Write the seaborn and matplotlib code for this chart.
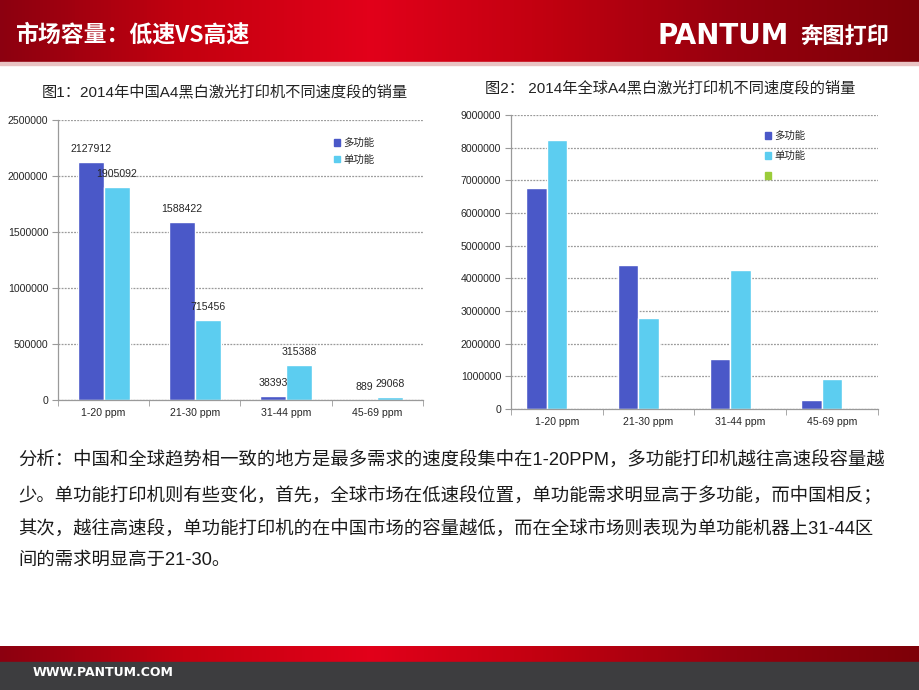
import numpy as np
import pandas as pd
import matplotlib
matplotlib.use("Agg")
import matplotlib.pyplot as plt
from matplotlib.patches import Patch
from matplotlib.colors import LinearSegmentedColormap
import seaborn as sns

# ---------------- data ----------------
speeds = ["1-20 ppm", "21-30 ppm", "31-44 ppm", "45-69 ppm"]
series_names = ["多功能", "单功能"]
china_multi = [2127912, 1588422, 38393, 889]
china_single = [1905092, 715456, 315388, 29068]
global_multi = [6780000, 4400000, 1530000, 275000]
global_single = [8240000, 2800000, 4265000, 905000]
global_series = ["多功能", "单功能", " "]

page_title = "市场容量：低速VS高速"
title1 = "图1：2014年中国A4黑白激光打印机不同速度段的销量"
title2 = "图2： 2014年全球A4黑白激光打印机不同速度段的销量"
analysis_lines = [
    "分析：中国和全球趋势相一致的地方是最多需求的速度段集中在1-20PPM，多功能打印机越往高速段容量越",
    "少。单功能打印机则有些变化，首先，全球市场在低速段位置，单功能需求明显高于多功能，而中国相反；",
    "其次，越往高速段，单功能打印机的在中国市场的容量越低，而在全球市场则表现为单功能机器上31-44区",
    "间的需求明显高于21-30。",
]

df1 = pd.DataFrame({
    "speed": speeds * 2,
    "type": [series_names[0]] * 4 + [series_names[1]] * 4,
    "value": china_multi + china_single,
})
df2 = pd.DataFrame({
    "speed": speeds * 2,
    "type": [global_series[0]] * 4 + [global_series[1]] * 4,
    "value": global_multi + global_single,
})

# ---------------- style ----------------
sns.set_style("white")
plt.rcParams["font.family"] = ["Liberation Sans", "Noto Sans CJK SC", "DejaVu Sans"]
plt.rcParams["axes.unicode_minus"] = False

DARK = "#4A58C8"
LIGHT = "#5CCDF0"
GREEN = "#9BCC3A"
GRID = "#9a9a9a"

fig = plt.figure(figsize=(9.2, 6.9), dpi=100)
fig.patch.set_facecolor("white")

# background (header / footer bands)
bg = fig.add_axes([0, 0, 1, 1], zorder=-10)
bg.axis("off")
red_cmap = LinearSegmentedColormap.from_list(
    "hdr", ["#8c0010", "#c4000f", "#e2001a", "#c00010", "#96000e", "#7e0008"])
grad = np.linspace(0, 1, 256).reshape(1, -1)
bg.imshow(grad, cmap=red_cmap, extent=[0, 920, 62, 0], aspect="auto", zorder=0)
bg.fill_between([0, 920], 62, 65, color="#e9c3c3", zorder=1)
bg.imshow(grad, cmap=red_cmap, extent=[0, 920, 662, 646], aspect="auto", zorder=0)
bg.fill_between([0, 920], 662, 690, color="#3d3d3f", zorder=1)
bg.set_xlim(0, 920)
bg.set_ylim(690, 0)

fig.text(15 / 920, 1 - 35 / 690, page_title, color="white", fontsize=16.5,
         fontweight="bold", va="center", ha="left",
         family=["Noto Sans CJK SC", "DejaVu Sans"])
fig.text(657 / 920, 1 - 36 / 690, "PANTUM", color="white", fontsize=20,
         fontweight="bold", va="center", ha="left", family=["DejaVu Sans"])
fig.text(800 / 920, 1 - 36 / 690, "奔图打印", color="white", fontsize=16,
         fontweight="bold", va="center", ha="left",
         family=["Noto Sans CJK SC", "DejaVu Sans"])
fig.text(33 / 920, 1 - 673 / 690, "WWW.PANTUM.COM", color="white", fontsize=9,
         fontweight="bold", va="center", ha="left", family=["DejaVu Sans"])


def style_axes(ax, ymax, step):
    ax.set_ylim(0, ymax)
    ax.set_xlim(-0.5, 3.5)
    ax.set_yticks(np.arange(0, ymax + 1, step))
    ax.set_yticklabels([f"{int(v)}" for v in np.arange(0, ymax + 1, step)])
    ax.yaxis.grid(True, color=GRID, linewidth=0.9, linestyle=(0, (1.5, 1)))
    ax.set_axisbelow(True)
    for s in ["top", "right"]:
        ax.spines[s].set_visible(False)
    for s in ["left", "bottom"]:
        ax.spines[s].set_color(GRID)
        ax.spines[s].set_linewidth(0.9)
    ax.tick_params(axis="y", which="major", length=4, color=GRID, labelsize=7.6,
                   pad=3, left=True)
    ax.set_xticks(range(4))
    ax.set_xticklabels(speeds)
    ax.tick_params(axis="x", which="major", length=0, labelsize=7.6, pad=6)
    ax.set_xticks([-0.5, 0.5, 1.5, 2.5, 3.5], minor=True)
    ax.tick_params(axis="x", which="minor", length=4, color=GRID, bottom=True)
    ax.set_xlabel("")
    ax.set_ylabel("")


# ---------------- chart 1 ----------------
ax1 = fig.add_axes([58 / 920, 1 - 400 / 690, 365 / 920, 280 / 690])
sns.barplot(data=df1, x="speed", y="value", hue="type", hue_order=series_names,
            order=speeds, palette=[DARK, LIGHT], saturation=1, width=0.57,
            errorbar=None, legend=False, ax=ax1)
style_axes(ax1, 2500000, 500000)
for cont in ax1.containers:
    ax1.bar_label(cont, fmt="%d", padding=5.5, fontsize=7.6)
ax1.legend(handles=[Patch(color=DARK, label=series_names[0]),
                    Patch(color=LIGHT, label=series_names[1])],
           loc="upper left", bbox_to_anchor=(0.745, 0.95), frameon=False,
           fontsize=7.5, handlelength=0.6, handleheight=0.6, handletextpad=0.3,
           labelspacing=0.6, borderaxespad=0)
fig.text(225 / 920, 1 - 92 / 690, title1, fontsize=11, ha="center", va="center",
         color="#222222")

# ---------------- chart 2 ----------------
ax2 = fig.add_axes([511 / 920, 1 - 409 / 690, 367 / 920, 294 / 690])
sns.barplot(data=df2, x="speed", y="value", hue="type", hue_order=global_series,
            order=speeds, palette=[DARK, LIGHT, GREEN], saturation=1, width=0.67,
            errorbar=None, legend=False, ax=ax2)
style_axes(ax2, 9000000, 1000000)
ax2.legend(handles=[Patch(color=DARK, label=global_series[0]),
                    Patch(color=LIGHT, label=global_series[1]),
                    Patch(color=GREEN, label=global_series[2])],
           loc="upper left", bbox_to_anchor=(0.68, 0.96), frameon=False,
           fontsize=7.5, handlelength=0.6, handleheight=0.6, handletextpad=0.3,
           labelspacing=0.95, borderaxespad=0)
fig.text(670 / 920, 1 - 88 / 690, title2, fontsize=11, ha="center", va="center",
         color="#222222")

# ---------------- analysis text ----------------
line_y = [461, 496, 530, 560]
for txt, y in zip(analysis_lines, line_y):
    fig.text(18 / 920, 1 - y / 690, txt, fontsize=13.2, ha="left", va="center",
             color="#1a1a1a")

fig.savefig("out.png", dpi=100, facecolor="white")
